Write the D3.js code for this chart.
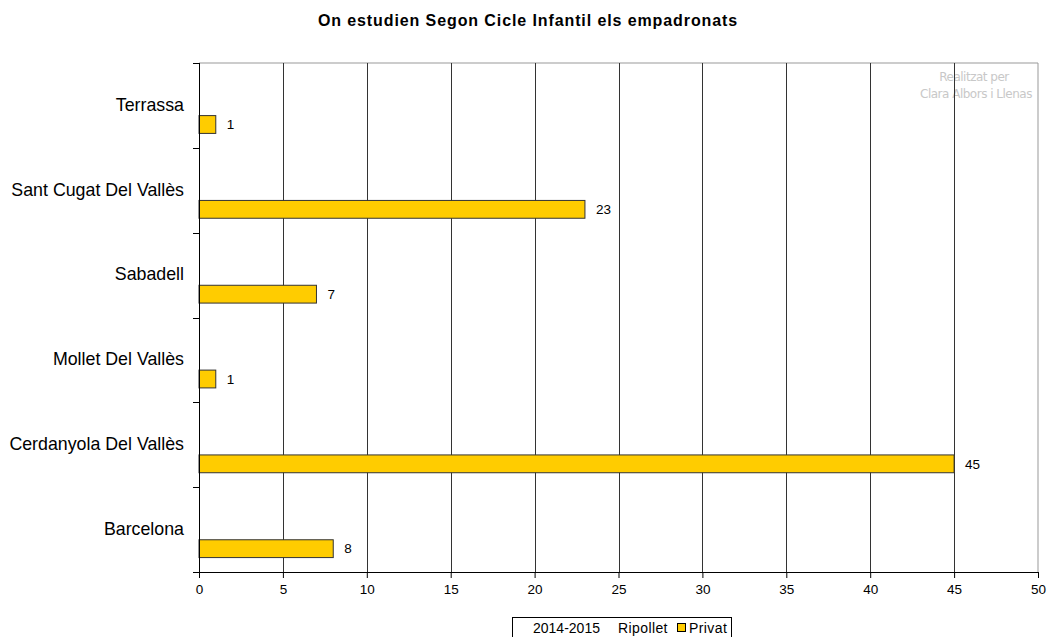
<!DOCTYPE html>
<html><head><meta charset="utf-8">
<script src="https://cdn.jsdelivr.net/npm/d3@7"></script>
<style>body{margin:0;background:#fff;} svg{display:block;font-family:"Liberation Sans",Arial,sans-serif;}</style>
</head><body>
<svg id="c" width="1048" height="637"></svg>
<script>
const categories = ["Terrassa","Sant Cugat Del Vallès","Sabadell","Mollet Del Vallès","Cerdanyola Del Vallès","Barcelona"];
const values = [1,23,7,1,45,8];
const xTicks = [0,5,10,15,20,25,30,35,40,45,50];
const title = "On estudien Segon Cicle Infantil els empadronats";
const legendItems = ["2014-2015","Ripollet","Privat"];

const svg = d3.select("#c");
const m = {l:199, r:1038, t:63, b:572};
const x = d3.scaleLinear().domain([0,50]).range([m.l,m.r]);
const y = d3.scaleBand().domain(categories).range([m.t,m.b]).paddingInner(0).paddingOuter(0);

svg.append("text").attr("x",528).attr("y",26).attr("text-anchor","middle")
  .attr("font-weight","bold").attr("font-size",16).attr("letter-spacing","0.9").text(title);

// watermark
const wm = svg.append("g").attr("fill","#c8c8c8").attr("font-size",12).attr("text-anchor","middle")
  .attr("font-family","'DejaVu Sans',sans-serif").attr("letter-spacing","-0.5");
wm.append("text").attr("x",974).attr("y",81).text("Realitzat per");
wm.append("text").attr("x",976).attr("y",98).text("Clara Albors i Llenas");

// frame
svg.append("line").attr("x1",m.l).attr("x2",m.r).attr("y1",m.t).attr("y2",m.t).attr("stroke","#999");
svg.append("line").attr("x1",m.r).attr("x2",m.r).attr("y1",m.t).attr("y2",m.b).attr("stroke","#999");

// gridlines
svg.append("g").selectAll("line").data(xTicks.filter(d=>d>0 && d<50)).join("line")
  .attr("x1",d=>Math.round(x(d))+0.5).attr("x2",d=>Math.round(x(d))+0.5)
  .attr("y1",m.t).attr("y2",m.b).attr("stroke","#333").attr("stroke-width",1);

// bars
const bw = y.bandwidth();
svg.append("g").selectAll("rect").data(values).join("rect")
  .attr("x",x(0)).attr("y",(d,i)=>y(categories[i])+bw*0.62)
  .attr("width",d=>x(d)-x(0)).attr("height",bw*0.21)
  .attr("fill","#FFCC00").attr("stroke","#333").attr("stroke-width",1);

svg.append("g").selectAll("text").data(values).join("text")
  .attr("x",d=>x(d)+11).attr("y",(d,i)=>y(categories[i])+bw*0.725)
  .attr("dy","0.35em").attr("font-size",13.5).text(d=>d);

// x axis
const xa = svg.append("g").attr("transform",`translate(0,${m.b})`)
  .call(d3.axisBottom(x).tickValues(xTicks).tickSize(6).tickPadding(6));
xa.select(".domain").attr("stroke","#000");
xa.selectAll("line").attr("stroke","#000");
xa.selectAll("text").attr("font-size",13.5).attr("font-family","'Liberation Sans',Arial,sans-serif").attr("fill","#000");

// y axis
svg.append("line").attr("x1",m.l+0.5).attr("x2",m.l+0.5).attr("y1",m.t).attr("y2",m.b).attr("stroke","#000");
svg.append("g").selectAll("line").data(categories.concat(["_end"])).join("line")
  .attr("x1",m.l-6).attr("x2",m.l)
  .attr("y1",(d,i)=>Math.round(m.t+i*bw)+0.5).attr("y2",(d,i)=>Math.round(m.t+i*bw)+0.5)
  .attr("stroke","#000");
svg.append("g").selectAll("text").data(categories).join("text")
  .attr("x",184).attr("y",d=>y(d)+bw*0.49).attr("dy","0.35em")
  .attr("text-anchor","end").attr("font-size",17.8).text(d=>d);

// legend
const lg = svg.append("g").attr("font-size",14).attr("letter-spacing","0.4");
lg.append("rect").attr("x",512.5).attr("y",617.5).attr("width",219).attr("height",25)
  .attr("fill","#fff").attr("stroke","#000");
lg.append("text").attr("x",533).attr("y",633).attr("letter-spacing","0").text(legendItems[0]);
lg.append("text").attr("x",618).attr("y",633).text(legendItems[1]);
lg.append("rect").attr("x",677.5).attr("y",623.5).attr("width",8).attr("height",8)
  .attr("fill","#FFCC00").attr("stroke","#000");
lg.append("text").attr("x",689).attr("y",633).text(legendItems[2]);
</script>
</body></html>
